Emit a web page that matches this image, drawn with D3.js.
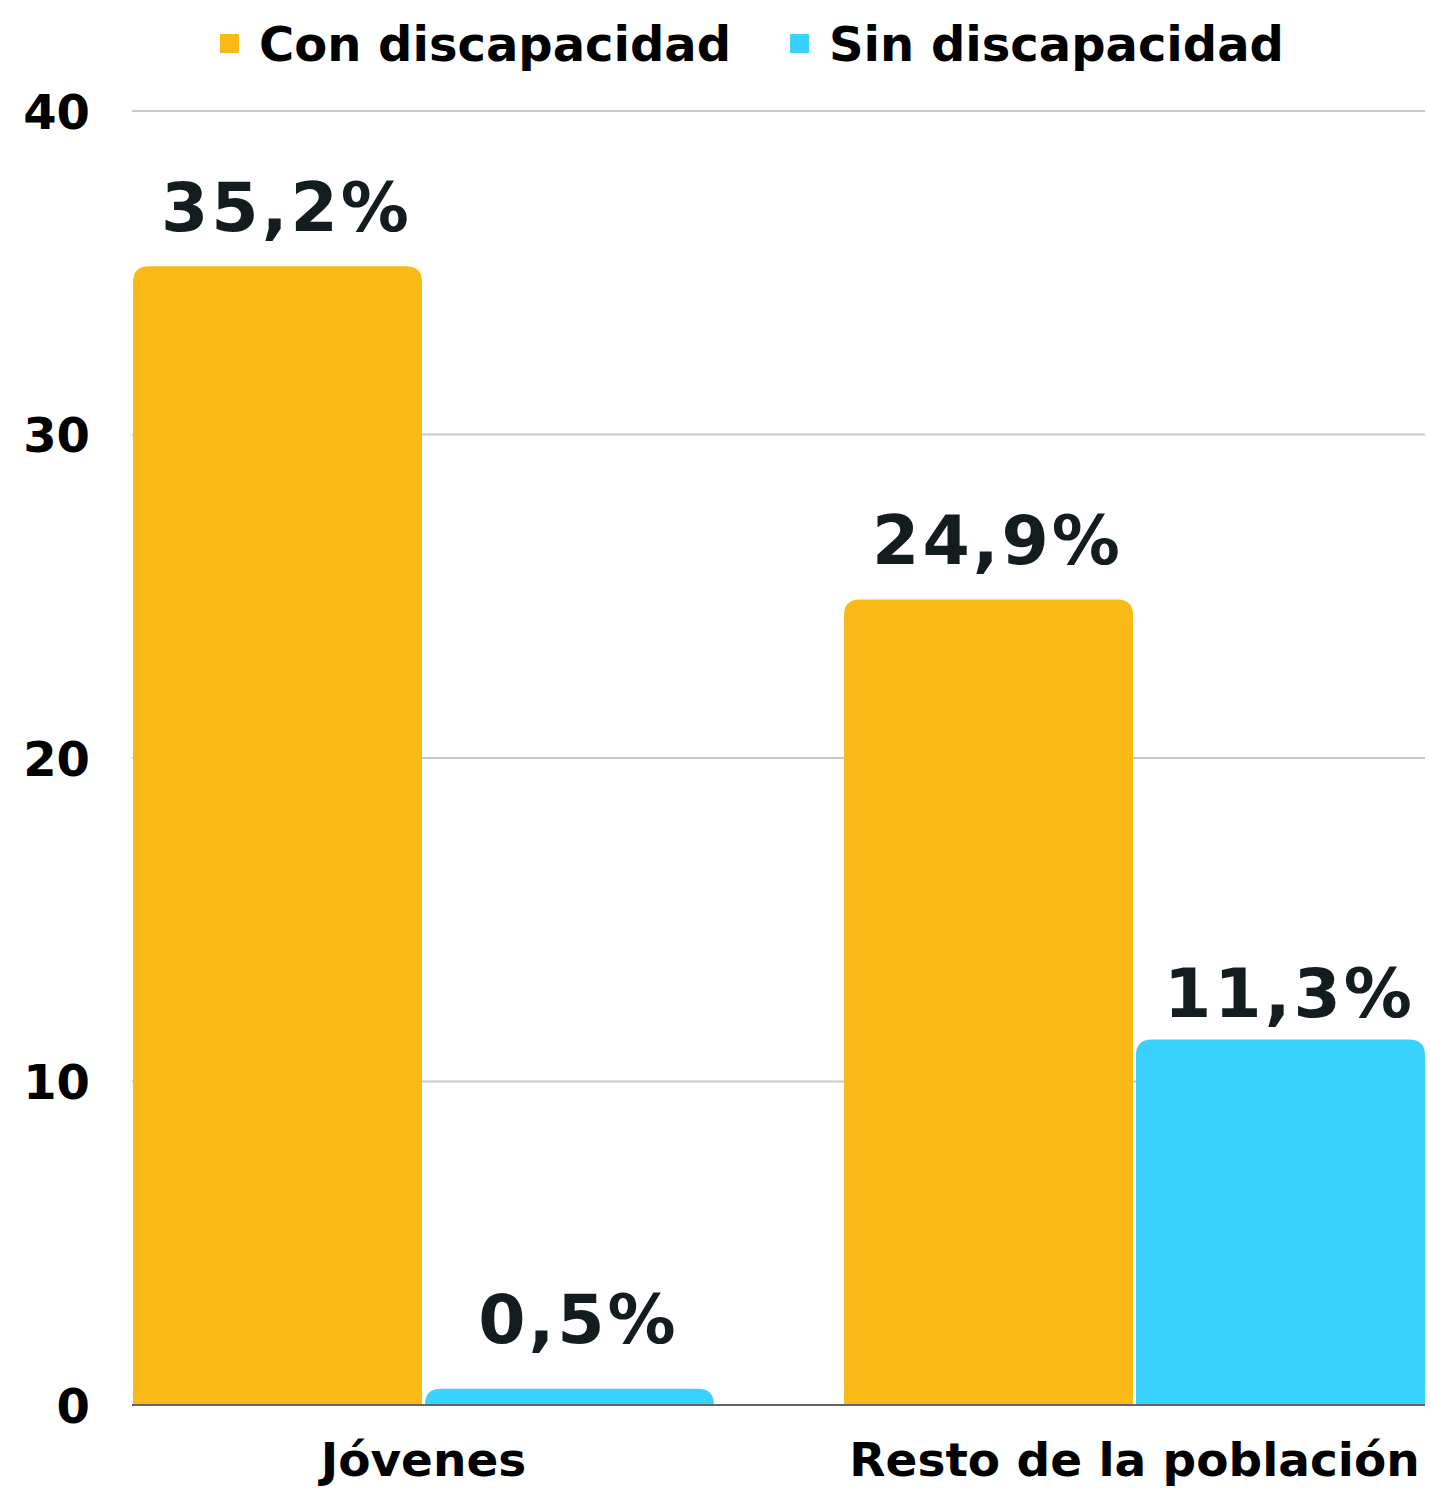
<!DOCTYPE html>
<html>
<head>
<meta charset="utf-8">
<script src="https://cdn.jsdelivr.net/npm/d3@7/dist/d3.min.js"></script>
<style>
  html, body { margin: 0; padding: 0; background: #fff; }
  svg { display: block; }
  text { font-family: "DejaVu Sans", sans-serif; font-weight: bold; }
</style>
</head>
<body>
<svg id="chart" width="1430" height="1488"></svg>
<script>
const categories = ["Jóvenes", "Resto de la población"];
const seriesNames = ["Con discapacidad", "Sin discapacidad"];
const conDiscapacidad = [35.2, 24.9];
const sinDiscapacidad = [0.5, 11.3];
const valueLabels = [["35,2%", "0,5%"], ["24,9%", "11,3%"]];
const yTicks = [0, 10, 20, 30, 40];

(function () {
const colors = ["#F9BA18", "#3AD1FD"];
const svg = d3.select("#chart");
const pLeft = 133, pRight = 1425, pTop = 111, pBottom = 1405;

const x0 = d3.scaleBand().domain(categories).range([pLeft, pRight]).paddingInner(0.183).paddingOuter(0);
const x1 = d3.scaleBand().domain(seriesNames).range([0, x0.bandwidth()]).padding(0.01).paddingOuter(0);
const y = d3.scaleLinear().domain([0, 40]).range([pBottom, pTop]);

// grid
svg.append("g").selectAll("line").data(yTicks.filter(d => d > 0)).join("line")
  .attr("x1", 132).attr("x2", pRight)
  .attr("y1", d => y(d)).attr("y2", d => y(d))
  .attr("stroke", "#c8c8c8").attr("stroke-width", 2);

// y axis labels
const yAxis = d3.axisLeft(y).tickValues(yTicks).tickSize(0).tickPadding(0);
const ya = svg.append("g").attr("transform", "translate(90,0)").call(yAxis);
ya.select(".domain").remove();
ya.selectAll("text").attr("font-size", 48).attr("fill", "#000")
  .attr("font-family", "DejaVu Sans").attr("font-weight", "bold")
  .attr("dy", "0.36em").attr("x", 0);

// bars
const data = categories.map((c, i) => ({cat: c, vals: [conDiscapacidad[i], sinDiscapacidad[i]], labels: valueLabels[i]}));
function topRounded(x, yTop, w, h, r) {
  r = Math.min(r, h, w / 2);
  return `M${x},${yTop + h}V${yTop + r}Q${x},${yTop} ${x + r},${yTop}H${x + w - r}Q${x + w},${yTop} ${x + w},${yTop + r}V${yTop + h}Z`;
}
const groups = svg.append("g").selectAll("g").data(data).join("g")
  .attr("transform", d => `translate(${x0(d.cat)},0)`);
const items = d => d.vals.map((v, j) => ({v, s: seriesNames[j], j, label: d.labels[j]}));
groups.selectAll("path").data(items).join("path")
  .attr("d", d => topRounded(x1(d.s), y(d.v), x1.bandwidth(), pBottom - y(d.v), 16))
  .attr("fill", d => colors[d.j]);
groups.selectAll("text").data(items).join("text")
  .attr("x", d => x1(d.s) + x1.bandwidth() / 2 + 9)
  .attr("y", d => y(d.v) - (d.v < 2 ? 46 : d.v < 15 ? 22 : 35))
  .attr("text-anchor", "middle")
  .attr("font-size", 68).attr("fill", "#131c1f").attr("letter-spacing", 3)
  .text(d => d.label);

// baseline
svg.append("line").attr("x1", 132).attr("x2", pRight).attr("y1", pBottom).attr("y2", pBottom)
  .attr("stroke", "#666").attr("stroke-width", 2);

// x labels
const xAxis = d3.axisBottom(x0).tickSize(0).tickPadding(0);
const xa = svg.append("g").attr("transform", `translate(0,${pBottom})`).call(xAxis);
xa.select(".domain").remove();
xa.selectAll("text").attr("font-size", 47).attr("fill", "#000")
  .attr("font-family", "DejaVu Sans").attr("font-weight", "bold")
  .attr("y", 71).attr("dy", 0);

// legend
const legendX = [220, 790];
const lg = svg.append("g").selectAll("g").data(seriesNames).join("g")
  .attr("transform", (d, i) => `translate(${legendX[i]},0)`);
lg.append("rect").attr("x", 0).attr("y", 34).attr("width", 19).attr("height", 19).attr("rx", 1).attr("fill", (d, i) => colors[i]);
lg.append("text").attr("x", 39).attr("y", 61).attr("font-size", 48).attr("fill", "#000").text(d => d);
})();
</script>
</body>
</html>
